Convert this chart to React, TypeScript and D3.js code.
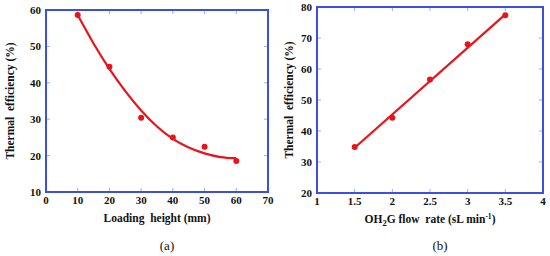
import { useEffect, useRef } from 'react';
import * as d3 from 'd3';

// panel (a): loading height vs thermal efficiency
const heights = [10, 20, 30, 40, 50, 60];
const effA = [58.6, 44.4, 30.4, 25.0, 22.4, 18.5];
const fitHeights = [10, 15, 20, 25, 30, 35, 40, 45, 50, 55, 60];
const fitEffA = [58.6, 50.8, 43.8, 37.7, 32.4, 28.0, 24.6, 22.2, 20.6, 19.6, 19.3];
const xTicksA = [0, 10, 20, 30, 40, 50, 60, 70];
const yTicksA = [10, 20, 30, 40, 50, 60];

// panel (b): OH2G flow rate vs thermal efficiency
const flows = [1.5, 2, 2.5, 3, 3.5];
const effB = [34.8, 44.3, 56.6, 68.0, 77.3];
const fitFlows = [1.5, 3.5];
const fitEffB = [34.6, 77.6];
const xTicksB = [1, 1.5, 2, 2.5, 3, 3.5, 4];
const yTicksB = [20, 30, 40, 50, 60, 70, 80];

const W = 550, H = 256;
const RED = '#e8141c';
const FRAME = '#3d4ee0';
const TICK = '#8eb2f2';
const FONT = '"Liberation Serif", "Times New Roman", serif';

interface PanelCfg {
  left: number; right: number; top: number; bottom: number;
  xDomain: [number, number]; yDomain: [number, number];
  xTicks: number[]; yTicks: number[];
  px: number[]; py: number[];
  fx: number[]; fy: number[];
  curved: boolean;
  ylabX: number;
  tag: string;
}

function drawPanel(svg: d3.Selection<SVGSVGElement, unknown, null, undefined>, c: PanelCfg, xTitle: (t: d3.Selection<SVGTextElement, unknown, null, undefined>) => void) {
  const x = d3.scaleLinear().domain(c.xDomain).range([c.left, c.right]);
  const y = d3.scaleLinear().domain(c.yDomain).range([c.bottom, c.top]);
  const g = svg.append('g');
  const tl = 4;

  // inward ticks on all four sides
  c.xTicks.slice(1, -1).forEach((t) => {
    g.append('line').attr('x1', x(t)).attr('x2', x(t)).attr('y1', c.bottom).attr('y2', c.bottom - tl)
      .attr('stroke', TICK).attr('stroke-width', 1);
    g.append('line').attr('x1', x(t)).attr('x2', x(t)).attr('y1', c.top).attr('y2', c.top + tl)
      .attr('stroke', TICK).attr('stroke-width', 1);
  });
  c.yTicks.slice(1, -1).forEach((t) => {
    g.append('line').attr('x1', c.left).attr('x2', c.left + tl).attr('y1', y(t)).attr('y2', y(t))
      .attr('stroke', TICK).attr('stroke-width', 1);
    g.append('line').attr('x1', c.right).attr('x2', c.right - tl).attr('y1', y(t)).attr('y2', y(t))
      .attr('stroke', TICK).attr('stroke-width', 1);
  });

  // frame
  g.append('rect').attr('x', c.left).attr('y', c.top)
    .attr('width', c.right - c.left).attr('height', c.bottom - c.top)
    .attr('fill', 'none').attr('stroke', FRAME).attr('stroke-width', 2);

  // tick labels
  c.xTicks.forEach((t) => {
    g.append('text').attr('x', x(t)).attr('y', c.bottom + 12)
      .attr('text-anchor', 'middle').attr('font-size', 11).attr('font-weight', 'bold')
      .attr('font-family', FONT).attr('fill', '#111').text(String(t));
  });
  c.yTicks.forEach((t) => {
    g.append('text').attr('x', c.left - 5).attr('y', y(t) + 4)
      .attr('text-anchor', 'end').attr('font-size', 11).attr('font-weight', 'bold')
      .attr('font-family', FONT).attr('fill', '#111').text(String(t));
  });

  // fit line
  const line = d3.line<number>()
    .x((d) => x(c.fx[d])).y((d) => y(c.fy[d]))
    .curve(c.curved ? d3.curveMonotoneX : d3.curveLinear);
  g.append('path').attr('d', line(c.fx.map((_, i) => i)))
    .attr('fill', 'none').attr('stroke', RED).attr('stroke-width', 2.2);

  // points
  c.px.forEach((v, i) => {
    g.append('circle').attr('cx', x(v)).attr('cy', y(c.py[i])).attr('r', 3).attr('fill', RED);
  });

  // titles
  g.append('text')
    .attr('transform', `translate(${c.ylabX},${(c.top + c.bottom) / 2}) rotate(-90)`)
    .attr('text-anchor', 'middle').attr('font-size', 11.5).attr('font-weight', 'bold')
    .attr('font-family', FONT).attr('fill', '#111').style('white-space', 'pre')
    .text('Thermal  efficiency (%)');

  const xt = g.append('text')
    .attr('x', (c.left + c.right) / 2).attr('y', c.bottom + 30)
    .attr('text-anchor', 'middle').attr('font-size', 11.5).attr('font-weight', 'bold')
    .attr('font-family', FONT).attr('fill', '#111').style('white-space', 'pre');
  xTitle(xt);

  g.append('text')
    .attr('x', (c.left + c.right) / 2 + 10).attr('y', 250)
    .attr('text-anchor', 'middle').attr('font-size', 13)
    .attr('font-family', FONT).attr('fill', '#111').text(c.tag);
}

export default function App() {
  const svgRef = useRef<SVGSVGElement>(null);

  useEffect(() => {
    if (!svgRef.current) return;
    const svg = d3.select(svgRef.current);
    svg.selectAll('*').remove();

    drawPanel(svg, {
      left: 46, right: 268, top: 10, bottom: 192,
      xDomain: [0, 70], yDomain: [10, 60],
      xTicks: xTicksA, yTicks: yTicksA,
      px: heights, py: effA, fx: fitHeights, fy: fitEffA,
      curved: true, ylabX: 14, tag: '(a)',
    }, (t) => { t.text('Loading  height (mm)'); });

    drawPanel(svg, {
      left: 317, right: 543, top: 7, bottom: 193,
      xDomain: [1, 4], yDomain: [20, 80],
      xTicks: xTicksB, yTicks: yTicksB,
      px: flows, py: effB, fx: fitFlows, fy: fitEffB,
      curved: false, ylabX: 293, tag: '(b)',
    }, (t) => {
      t.append('tspan').text('OH');
      t.append('tspan').attr('font-size', 8.5).attr('dy', 3).text('2');
      t.append('tspan').attr('dy', -3).text('G flow  rate (sL min');
      t.append('tspan').attr('font-size', 7.5).attr('dy', -4).text('-1');
      t.append('tspan').attr('dy', 4).text(')');
    });
  }, []);

  return (
    <svg ref={svgRef} width={W} height={H}
      style={{ position: 'absolute', left: 0, top: 0, background: '#fff' }} />
  );
}
